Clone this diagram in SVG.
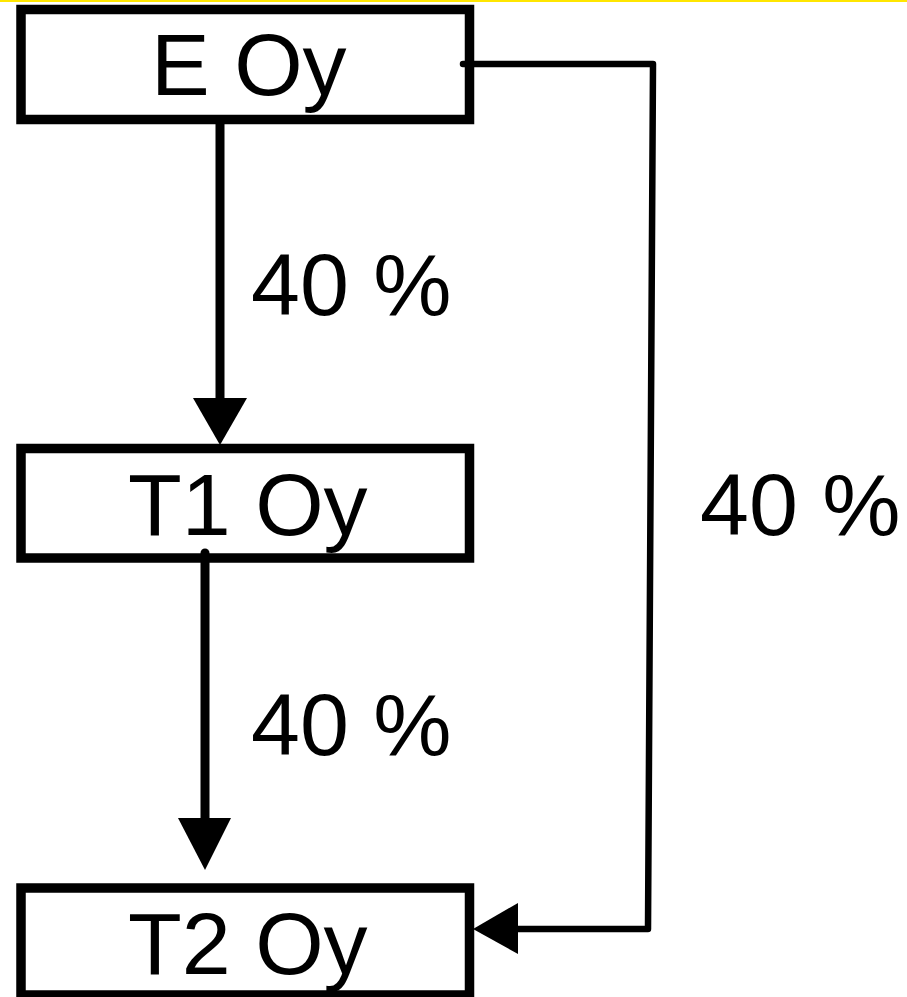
<svg xmlns="http://www.w3.org/2000/svg" width="907" height="997" viewBox="0 0 907 997">
  <style>
    .box { fill: #ffffff; stroke: #000000; stroke-width: 9.5; }
    .lbl { font-family: "Liberation Sans", Arial, sans-serif; font-size: 88px; fill: #000000; }
    .thick { fill: none; stroke: #000000; stroke-width: 9; stroke-linecap: round; }
    .thin { fill: none; stroke: #000000; stroke-width: 6.5; stroke-linecap: round; stroke-linejoin: round; }
    .head { fill: #000000; stroke: none; }
  </style>
  <rect x="0" y="0" width="907" height="997" fill="#ffffff"/>
  <rect x="0" y="0" width="907" height="2" fill="#ffe600"/>

  <g id="node-e-oy">
    <rect class="box" x="21" y="9.5" width="448.5" height="110"/>
    <text class="lbl" x="151" y="95">E Oy</text>
  </g>
  <g id="node-t1-oy">
    <rect class="box" x="21" y="448.5" width="448.5" height="109.5"/>
    <text class="lbl" x="128" y="535">T1 Oy</text>
  </g>
  <g id="node-t2-oy">
    <rect class="box" x="21" y="888" width="448.5" height="107"/>
    <text class="lbl" x="128" y="974">T2 Oy</text>
  </g>

  <g id="connectors">
    <line class="thick" x1="220" y1="124" x2="220" y2="400"/>
    <polygon class="head" points="193,398 247,398 220,445"/>
    <line class="thick" x1="205" y1="553" x2="205" y2="820"/>
    <polygon class="head" points="178,818 231,818 205,870"/>
    <polyline class="thin" points="463,64 653,64 648,929 516,929"/>
    <polygon class="head" points="518,903 518,954 473,929"/>
  </g>

  <g id="labels">
    <text class="lbl" x="251" y="315">40 %</text>
    <text class="lbl" x="251" y="755">40 %</text>
    <text class="lbl" x="700" y="535">40 %</text>
  </g>
</svg>
